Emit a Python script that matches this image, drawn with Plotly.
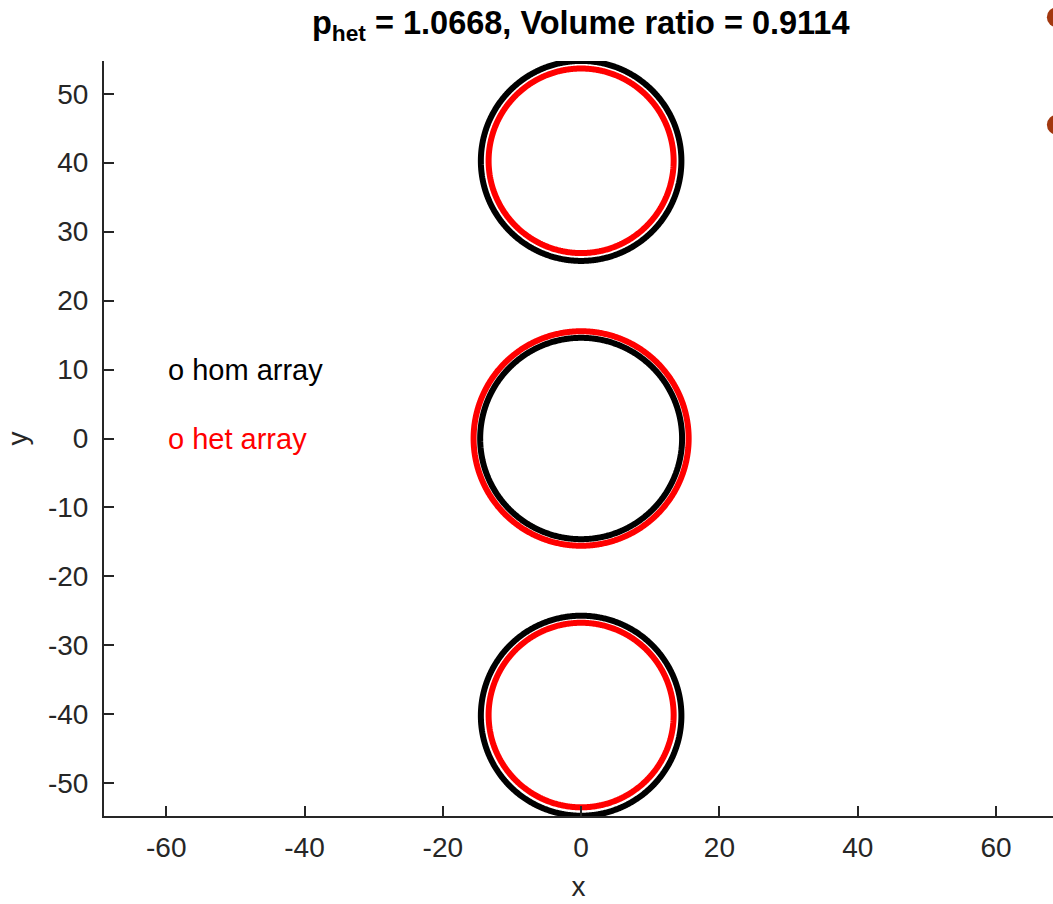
import numpy as np
import plotly.graph_objects as go

# ---- data ----
hom_cx = [0.0, 0.0, 0.0]
hom_cy = [40.25, 0.0, -40.2]
hom_r = [14.5, 14.6, 14.5]

het_cx = [0.0, 0.0, 0.0]
het_cy = [40.27, 0.0, -40.1]
het_r = [13.38, 15.55, 13.38]

extra_x = [68.8, 68.8]
extra_y = [61.1, 45.5]

x_ticks = [-60, -40, -20, 0, 20, 40, 60]
y_ticks = [-50, -40, -30, -20, -10, 0, 10, 20, 30, 40, 50]

title_text = "p<sub>het</sub> = 1.0668, Volume ratio = 0.9114"
label_hom = "o hom array"
label_het = "o het array"

FONT = "Liberation Sans, Arial, sans-serif"
AX = "#262626"

X_RANGE = [-69.0, 68.24]
Y_RANGE = [-54.74, 54.74]

theta = np.linspace(0, 2 * np.pi, 721)

fig = go.Figure()

def add_circles(cx, cy, r, color):
    for x0, y0, rr in zip(cx, cy, r):
        fig.add_trace(go.Scatter(
            x=x0 + rr * np.cos(theta), y=y0 + rr * np.sin(theta),
            mode="lines", line=dict(color=color, width=6, simplify=False),
            hoverinfo="skip", showlegend=False))

add_circles(hom_cx, hom_cy, hom_r, "#000000")
add_circles(het_cx, het_cy, het_r, "#FF0000")

# dots lying outside the axes (partly cut off by the figure edge)
def to_paper(v, rng):
    return (v - rng[0]) / (rng[1] - rng[0])

for ex, ey in zip(extra_x, extra_y):
    fig.add_shape(type="circle", xref="paper", yref="paper",
                  xsizemode="pixel", ysizemode="pixel",
                  xanchor=to_paper(ex, X_RANGE), yanchor=to_paper(ey, Y_RANGE),
                  x0=-10, x1=10, y0=-10, y1=10,
                  fillcolor="#A2380F", line=dict(width=0), layer="above")

fig.add_annotation(x=-60, y=10, text=label_hom, showarrow=False,
                   xanchor="left", yanchor="middle",
                   font=dict(family=FONT, size=29, color="#000000"))
fig.add_annotation(x=-60, y=0, text=label_het, showarrow=False,
                   xanchor="left", yanchor="middle",
                   font=dict(family=FONT, size=29, color="#FF0000"))

fig.update_layout(
    width=1053, height=904,
    margin=dict(l=104, r=0, t=61, b=88),
    paper_bgcolor="white", plot_bgcolor="white",
    font=dict(family=FONT, size=28, color=AX),
    title=dict(text=title_text, x=0.5515, xanchor="center",
               y=1 - 23 / 904, yanchor="middle", yref="container",
               font=dict(family=FONT, size=32.5, color="#000000", weight="bold")),
    showlegend=False,
)

fig.update_xaxes(
    range=X_RANGE, showgrid=False, zeroline=False,
    showline=True, linecolor=AX, linewidth=2,
    ticks="inside", ticklen=10, tickwidth=2, tickcolor=AX,
    tickvals=x_ticks, ticktext=[str(v) for v in x_ticks],
    tickfont=dict(family=FONT, size=28, color=AX),
    ticklabelstandoff=5,
    title=dict(text="x", font=dict(family=FONT, size=28, color=AX), standoff=15),
)
fig.update_yaxes(
    range=Y_RANGE, showgrid=False, zeroline=False,
    showline=True, linecolor=AX, linewidth=2,
    ticks="inside", ticklen=10, tickwidth=2, tickcolor=AX,
    tickvals=y_ticks, ticktext=[str(v) for v in y_ticks],
    tickfont=dict(family=FONT, size=28, color=AX),
    ticklabelstandoff=8,
    title=dict(text="y", font=dict(family=FONT, size=28, color=AX), standoff=12),
)

fig.write_html("out.html", config={"displayModeBar": False})
